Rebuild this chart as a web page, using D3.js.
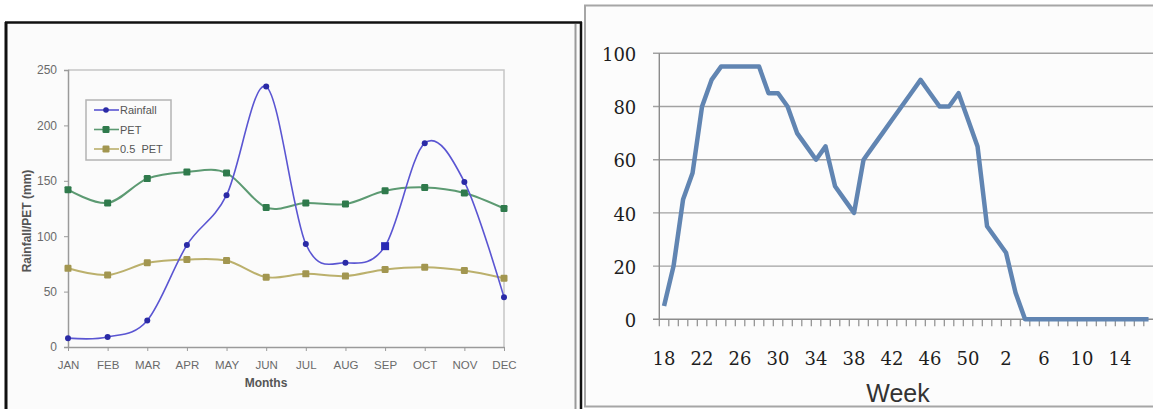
<!DOCTYPE html>
<html>
<head>
<meta charset="utf-8">
<script src="https://cdn.jsdelivr.net/npm/d3@7"></script>
<style>
  html, body { margin: 0; padding: 0; background: #ffffff; }
  svg { display: block; }
</style>
</head>
<body>
<svg id="chart" width="1153" height="409"></svg>
<script>
// ---------- Data: left chart ----------
const months = ["JAN", "FEB", "MAR", "APR", "MAY", "JUN", "JUL", "AUG", "SEP", "OCT", "NOV", "DEC"];
const rainfall = [8, 9, 24, 92, 137, 235, 93, 76, 91, 184, 149, 45];
const pet = [142, 130, 152, 158, 157, 126, 130, 129, 141, 144, 139, 125];
const halfPet = [71, 65, 76, 79, 78, 63, 66, 64, 70, 72, 69, 62];
const leftYTicks = [0, 50, 100, 150, 200, 250];
const seriesNames = ["Rainfall", "PET", "0.5  PET"];

// ---------- Data: right chart ----------
const weeks = [18, 19, 20, 21, 22, 23, 24, 25, 26, 27, 28, 29, 30, 31, 32, 33, 34, 35, 36, 37, 38, 39, 40, 41, 42, 43, 44, 45, 46, 47, 48, 49, 50, 51, 52,
               1, 2, 3, 4, 5, 6, 7, 8, 9, 10, 11, 12, 13, 14, 15, 16, 17];
const weekValues = [5, 20, 45, 55, 80, 90, 95, 95, 95, 95, 95, 85, 85, 80, 70, 65, 60, 65, 50, 45, 40, 60, 65, 70, 75, 80, 85, 90, 85, 80, 80, 85, 75, 65, 35,
                    30, 25, 10, 0, 0, 0, 0, 0, 0, 0, 0, 0, 0, 0, 0, 0, 0];
const weekTickLabels = [18, 22, 26, 30, 34, 38, 42, 46, 50, 2, 6, 10, 14];
const rightYTicks = [0, 20, 40, 60, 80, 100];

const svg = d3.select("#chart");
svg.append("rect").attr("width", 1153).attr("height", 409).attr("fill", "#ffffff");

// ================= LEFT PANEL =================
const L = svg.append("g");
L.append("rect").attr("x", 6).attr("y", 22).attr("width", 575).attr("height", 390).attr("fill", "#fbfbfb");
// frame lines
L.append("line").attr("x1", 5).attr("x2", 582).attr("y1", 22.5).attr("y2", 22.5).attr("stroke", "#111").attr("stroke-width", 2.5);
L.append("line").attr("x1", 6).attr("x2", 6).attr("y1", 22).attr("y2", 409).attr("stroke", "#111").attr("stroke-width", 3);
L.append("line").attr("x1", 575.5).attr("x2", 575.5).attr("y1", 24).attr("y2", 409).attr("stroke", "#9a9a9a").attr("stroke-width", 2);
L.append("line").attr("x1", 581).attr("x2", 581).attr("y1", 22).attr("y2", 409).attr("stroke", "#111").attr("stroke-width", 2.5);

const lx = d3.scalePoint().domain(months).range([68, 504]);
const ly = d3.scaleLinear().domain([0, 250]).range([347, 70]);

// plot frame (top & right)
L.append("path")
  .attr("d", `M${lx.range()[0]},${ly(250)}H${lx.range()[1]}V${ly(0)}`)
  .attr("fill", "none").attr("stroke", "#c6c6c6").attr("stroke-width", 1.5);

// y axis
const lyAxis = d3.axisLeft(ly).tickValues(leftYTicks).tickSize(4).tickPadding(7);
const gLy = L.append("g").attr("transform", `translate(${lx.range()[0]},0)`).call(lyAxis);
gLy.select(".domain").attr("stroke", "#9a9a9a").attr("stroke-width", 1.5);
gLy.selectAll(".tick line").attr("stroke", "#9a9a9a");
gLy.selectAll("text").attr("font-family", "Liberation Sans, Arial, sans-serif").attr("font-size", "12px").attr("fill", "#6a6a6a");

// x axis
const lxAxis = d3.axisBottom(lx).tickSize(4).tickPadding(10).tickSizeOuter(0);
const gLx = L.append("g").attr("transform", `translate(0,${ly(0)})`).call(lxAxis);
gLx.select(".domain").attr("stroke", "#9a9a9a").attr("stroke-width", 1.5);
gLx.selectAll(".tick line").attr("stroke", "#9a9a9a");
gLx.selectAll("text").attr("font-family", "Liberation Sans, Arial, sans-serif").attr("font-size", "11.5px").attr("fill", "#6a6a6a");

// axis titles
L.append("text").attr("x", 266).attr("y", 387).attr("text-anchor", "middle")
  .attr("font-family", "Liberation Sans, Arial, sans-serif").attr("font-weight", "bold").attr("font-size", "12px").attr("fill", "#555")
  .text("Months");
L.append("text").attr("transform", "translate(31,221) rotate(-90)").attr("text-anchor", "middle")
  .attr("font-family", "Liberation Sans, Arial, sans-serif").attr("font-weight", "bold").attr("font-size", "12px").attr("fill", "#555")
  .text("Rainfall/PET (mm)");

const curve = d3.curveCardinal.tension(0);
const leftSeries = [
  { name: seriesNames[0], values: rainfall, line: "#5a55d2", mark: "#2a2aa6", shape: "circle", w: 1.6 },
  { name: seriesNames[1], values: pet, line: "#5c9a72", mark: "#2f7a4c", shape: "square", w: 2 },
  { name: seriesNames[2], values: halfPet, line: "#bbb06c", mark: "#a29650", shape: "square", w: 2 }
];
const lineGen = d3.line().x((d, i) => lx(months[i])).y(d => ly(d)).curve(curve);

// draw in reverse so rainfall is on top
leftSeries.slice().reverse().forEach(s => {
  L.append("path").attr("d", lineGen(s.values)).attr("fill", "none").attr("stroke", s.line).attr("stroke-width", s.w);
  s.values.forEach((v, i) => {
    const cx = lx(months[i]), cy = ly(v);
    if (s.shape === "circle") {
      if (months[i] === "SEP") {
        L.append("rect").attr("x", cx - 4).attr("y", cy - 4).attr("width", 8).attr("height", 8).attr("fill", "#2a2ab4");
      } else {
        L.append("circle").attr("cx", cx).attr("cy", cy).attr("r", 3).attr("fill", s.mark);
      }
    } else {
      L.append("rect").attr("x", cx - 3.5).attr("y", cy - 3.5).attr("width", 7).attr("height", 7).attr("rx", 1.2).attr("fill", s.mark);
    }
  });
});

// legend
const lg = L.append("g");
lg.append("rect").attr("x", 86).attr("y", 100).attr("width", 85).attr("height", 60)
  .attr("fill", "#fbfbfb").attr("stroke", "#b4b4b4").attr("stroke-width", 1.5);
leftSeries.forEach((s, i) => {
  const yy = 110 + i * 19.5;
  lg.append("line").attr("x1", 94).attr("x2", 119).attr("y1", yy).attr("y2", yy).attr("stroke", s.line).attr("stroke-width", 1.6);
  if (s.shape === "circle") lg.append("circle").attr("cx", 106).attr("cy", yy).attr("r", 2.8).attr("fill", s.mark);
  else lg.append("rect").attr("x", 102.5).attr("y", yy - 3.5).attr("width", 7).attr("height", 7).attr("rx", 1.2).attr("fill", s.mark);
  lg.append("text").attr("x", 120).attr("y", yy + 4).attr("font-family", "Liberation Sans, Arial, sans-serif")
    .attr("font-size", "11px").attr("fill", "#555").attr("xml:space", "preserve").style("white-space", "pre").text(s.name);
});

// ================= RIGHT PANEL =================
const R = svg.append("g");
R.append("rect").attr("x", 585).attr("y", 5.5).attr("width", 575).attr("height", 401)
  .attr("fill", "#fcfcfc").attr("stroke", "#a6a6a6").attr("stroke-width", 2);

const rx = d3.scaleBand().domain(weeks.map((w, i) => i)).range([659.3, 1153.3]).paddingInner(0).paddingOuter(0);
const ry = d3.scaleLinear().domain([0, 100]).range([319.3, 53.3]);

// gridlines
const gGrid = R.append("g");
rightYTicks.forEach(t => {
  gGrid.append("line").attr("x1", 653).attr("x2", 1153).attr("y1", ry(t)).attr("y2", ry(t))
    .attr("stroke", t === 0 ? "#8c8c8c" : "#a2a2a2").attr("stroke-width", 1.4);
});
// y axis line
R.append("line").attr("x1", 659.3).attr("x2", 659.3).attr("y1", ry(100)).attr("y2", ry(0)).attr("stroke", "#8c8c8c").attr("stroke-width", 1.4);

// y labels via axis
const ryAxis = d3.axisLeft(ry).tickValues(rightYTicks).tickSize(0).tickPadding(23);
const gRy = R.append("g").attr("transform", "translate(659.3,0)").call(ryAxis);
gRy.select(".domain").remove();
gRy.selectAll("text").attr("font-family", "DejaVu Serif, serif").attr("font-size", "18px").attr("fill", "#1e1e1e").attr("dy", "0.4em");

// x boundary ticks
const gTicks = R.append("g");
weeks.forEach((w, i) => {
  const xx = rx(i);
  gTicks.append("line").attr("x1", xx).attr("x2", xx).attr("y1", ry(0)).attr("y2", ry(0) + 7).attr("stroke", "#8c8c8c").attr("stroke-width", 1.2);
});

// x labels via axis (every 4th week)
const labelIdx = weeks.map((w, i) => i).filter(i => weekTickLabels.includes(weeks[i]));
const rxAxis = d3.axisBottom(rx).tickValues(labelIdx).tickSize(0).tickPadding(33)
  .tickFormat(i => String(weeks[i]));
const gRx = R.append("g").attr("transform", `translate(0,${ry(0)})`).call(rxAxis);
gRx.select(".domain").remove();
gRx.selectAll("text").attr("font-family", "DejaVu Serif, serif").attr("font-size", "18px").attr("fill", "#1e1e1e");

// week line
const wLine = d3.line().x((d, i) => rx(i) + rx.bandwidth() / 2).y(d => ry(d));
R.append("path").attr("d", wLine(weekValues)).attr("fill", "none").attr("stroke", "#6185b2")
  .attr("stroke-width", 4.5).attr("stroke-linejoin", "round").attr("stroke-linecap", "butt");

R.append("text").attr("x", 898).attr("y", 402).attr("text-anchor", "middle")
  .attr("font-family", "Liberation Sans, Arial, sans-serif").attr("font-size", "25px").attr("fill", "#333")
  .text("Week");
</script>
</body>
</html>
